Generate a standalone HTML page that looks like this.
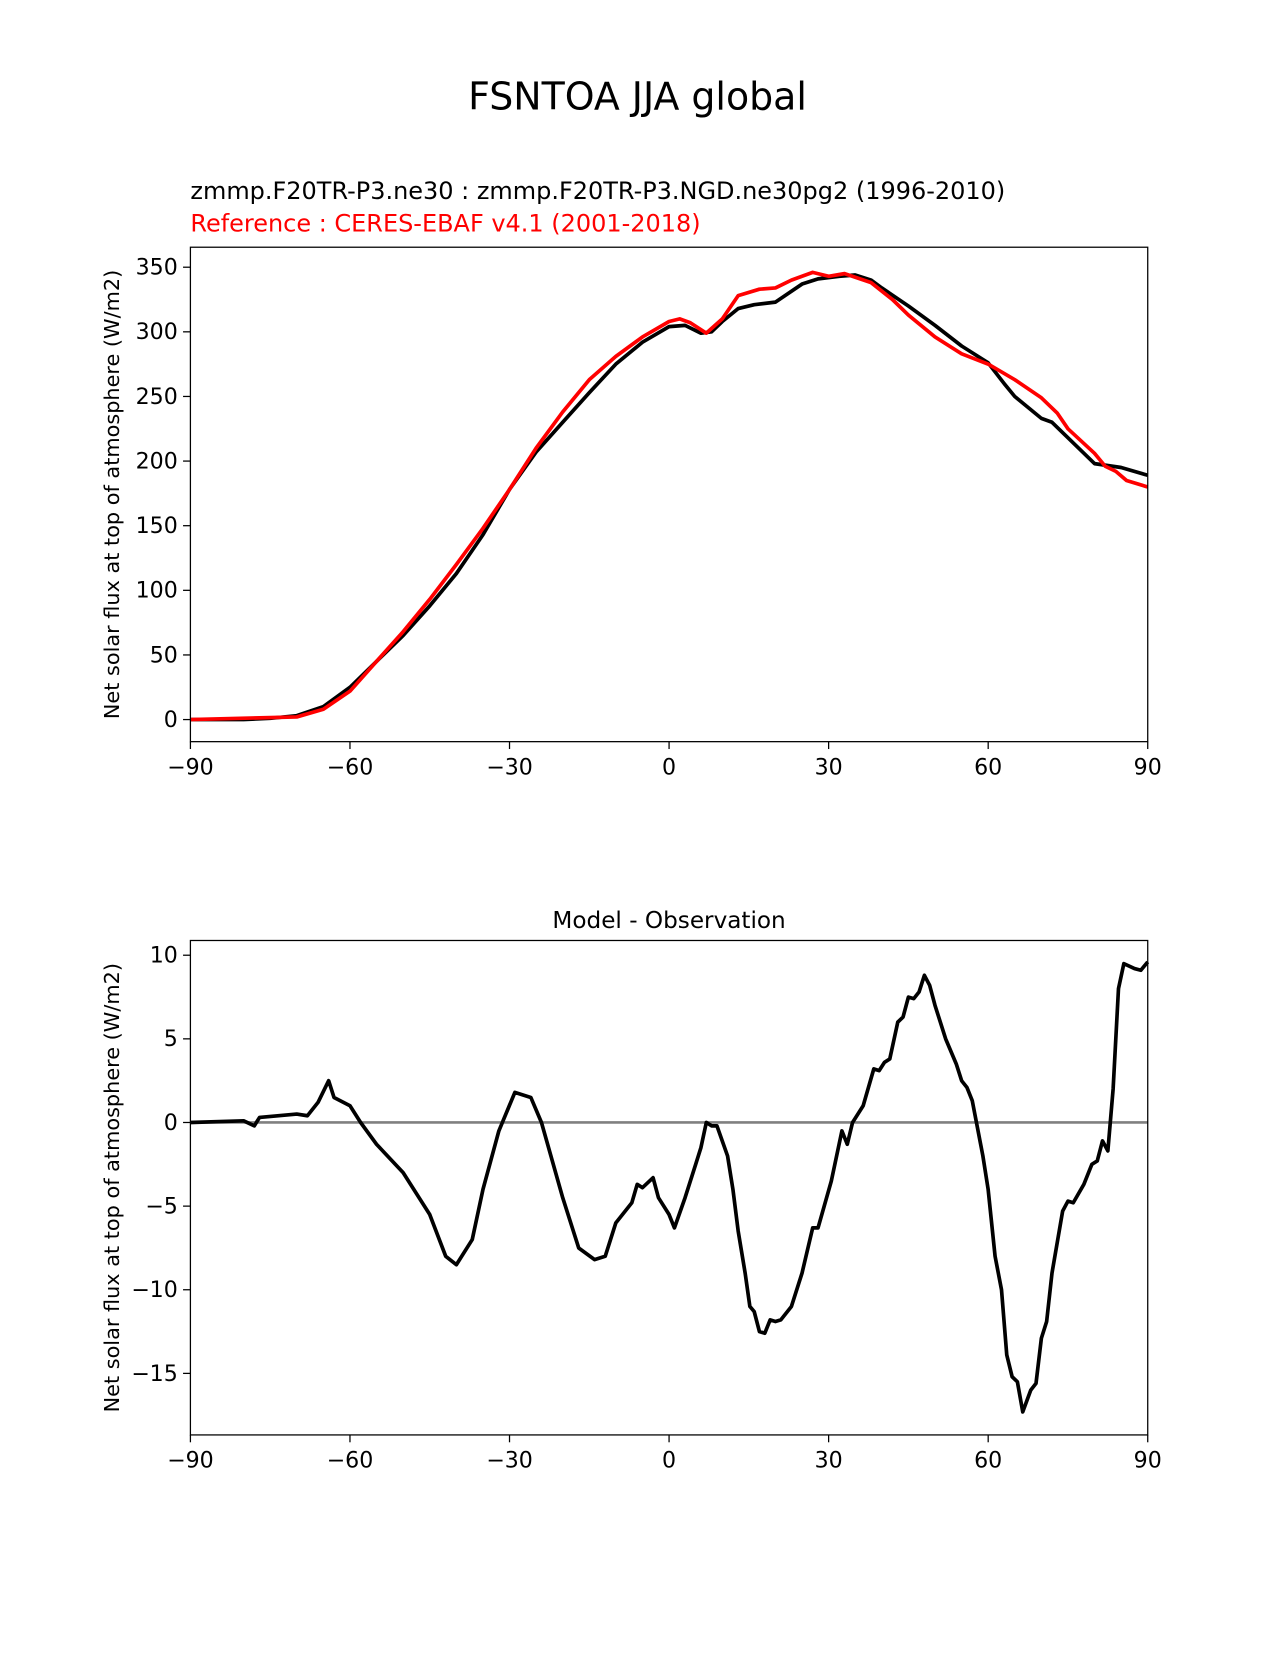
<!DOCTYPE html>
<html><head><meta charset="utf-8"><style>
body{margin:0;background:#fff;width:1275px;height:1650px;overflow:hidden}
svg text{font-family:"DejaVu Sans","Liberation Sans",sans-serif}
</style></head><body>
<svg id="fig" width="1275" height="1650" xmlns="http://www.w3.org/2000/svg">
<g transform="scale(1.052)">
<text x="606" y="104" font-size="36" text-anchor="middle">FSNTOA JJA global</text>
<text x="181" y="189" font-size="22.8">zmmp.F20TR-P3.ne30 : zmmp.F20TR-P3.NGD.ne30pg2 (1996-2010)</text>
<text x="181" y="220" font-size="22.8" fill="#ff0000">Reference : CERES-EBAF v4.1 (2001-2018)</text>
<text x="636" y="882" font-size="22" text-anchor="middle">Model - Observation</text>
<g id="top"></g>
<g id="bot"></g>
</g>
</svg>
<script>
const latModel=[-90,-80,-75,-70,-65,-60,-55,-50,-45,-40,-35,-30,-25,-20,-15,-10,-5,0,3,6,8,10,13,16,20,25,28,32,35,38,40,45,50,55,60,63,65,70,72,75,80,85,90];
const valModel=[0,0,1,3,10,25,45,65,88,113,143,178,207,230,253,275,292,304,305,299,300,308,318,321,323,337,341,343,344,340,334,320,305,289,276,260,250,233,230,218,198,195,189];
const latObs=[-90,-70,-65,-60,-55,-50,-45,-40,-35,-30,-25,-20,-15,-10,-5,0,2,4,7,10,13,17,20,23,27,30,33,38,42,45,50,55,60,65,70,73,75,80,82,84,86,90];
const valObs=[0,2,8,22,45,68,93,120,148,178,210,238,263,281,296,308,310,307,299,310,328,333,334,340,346,343,345,338,325,313,296,283,275,263,249,237,225,206,196,192,185,180];
const latDiff=[-90,-80,-78,-77,-70,-68,-66,-64,-63,-60,-58,-55,-50,-45,-42,-40,-37,-35,-32,-29,-26,-24,-20,-17,-14,-12,-10,-7,-6,-5,-3,-2,0,1,3,5,6,7,8,9,11,12,13,14.3,15.2,16,17,18,19,20,21,23,25,27,28,30.5,32.5,33.5,34.5,36.5,38.5,39.5,40.5,41.5,43,44,45,46,47,48,49,50,52,54,55,56,57,59,60,61.3,62.5,63.5,64.5,65.5,66.5,68,69,70,71,72,74,75,76,78,79.5,80.5,81.5,82.5,83.5,84.5,85.5,87.5,88.7,90];
const valDiff=[0,0.1,-0.2,0.3,0.5,0.4,1.2,2.5,1.5,1,0,-1.3,-3,-5.5,-8,-8.5,-7,-4,-0.5,1.8,1.5,0,-4.5,-7.5,-8.2,-8,-6,-4.8,-3.7,-3.9,-3.3,-4.5,-5.5,-6.3,-4.5,-2.5,-1.5,0,-0.2,-0.2,-2,-4,-6.5,-9,-11,-11.3,-12.5,-12.6,-11.8,-11.9,-11.8,-11,-9,-6.3,-6.3,-3.5,-0.5,-1.3,0,1,3.2,3.1,3.6,3.8,6,6.3,7.5,7.4,7.8,8.8,8.2,7,5,3.5,2.5,2.1,1.3,-2,-4,-8,-10,-13.9,-15.2,-15.5,-17.3,-16,-15.6,-12.9,-11.9,-9,-5.3,-4.7,-4.8,-3.7,-2.5,-2.3,-1.1,-1.7,2,8,9.5,9.2,9.1,9.6];
const xTicks=[-90,-60,-30,0,30,60,90];
const yTicksTop=[0,50,100,150,200,250,300,350];
const yTicksBot=[-15,-10,-5,0,5,10];
const NS='http://www.w3.org/2000/svg';
function mk(p,t,a){const e=document.createElementNS(NS,t);for(const k in a)e.setAttribute(k,a[k]);p.appendChild(e);return e;}
const L=181,R=1091;
const xs=v=>L+(v+90)*(R-L)/180;
function lab(v){return v<0?'\u2212'+Math.abs(v):''+v;}
function axes(g,top,bot,ys,yt,name){
  yt.forEach(v=>{const y=ys(v);
    const t=mk(g,'line',{x1:L-7,x2:L,y1:y,y2:y,stroke:'#000','stroke-width':1.2});
    
    const tx=mk(g,'text',{x:L-12,y:y+7,'font-size':21,'text-anchor':'end'});tx.textContent=lab(v);
    });
  xTicks.forEach(v=>{const x=xs(v);
    const t=mk(g,'line',{x1:x,x2:x,y1:bot,y2:bot+7,stroke:'#000','stroke-width':1.2});
    
    const tx=mk(g,'text',{x:x,y:bot+31,'font-size':21,'text-anchor':'middle'});tx.textContent=lab(v);
    });
  const yt2=mk(g,'text',{transform:`translate(113,${(top+bot)/2}) rotate(-90)`,'font-size':19.8,'text-anchor':'middle'});
  yt2.textContent='Net solar flux at top of atmosphere (W/m2)';
  
}
function line(g,lx,ly,ys,col,name){
  const d=lx.map((v,i)=>(i?'L':'M')+xs(v).toFixed(1)+','+ys(ly[i]).toFixed(1)).join('');
  const p=mk(g,'path',{d:d,fill:'none',stroke:col,'stroke-width':3.5,'stroke-linejoin':'round'});
  
}
const gt=document.getElementById('top');
const ysT=v=>684-v*(684-254)/350;
line(gt,latModel,valModel,ysT,'#000','model-line');
line(gt,latObs,valObs,ysT,'#ff0000','observation-line');
const ft=mk(gt,'rect',{x:L,y:235,width:R-L,height:470,fill:'none',stroke:'#000','stroke-width':1.2});

axes(gt,235,705,ysT,yTicksTop,'top');
const gb=document.getElementById('bot');
const ysB=v=>1067-v*(1067-908)/10;
const z=mk(gb,'line',{x1:L,x2:R,y1:ysB(0),y2:ysB(0),stroke:'#808080','stroke-width':2.5});

line(gb,latDiff,valDiff,ysB,'#000','difference-line');
const fb=mk(gb,'rect',{x:L,y:894,width:R-L,height:470,fill:'none',stroke:'#000','stroke-width':1.2});

axes(gb,894,1364,ysB,yTicksBot,'diff');
</script>
</body></html>
